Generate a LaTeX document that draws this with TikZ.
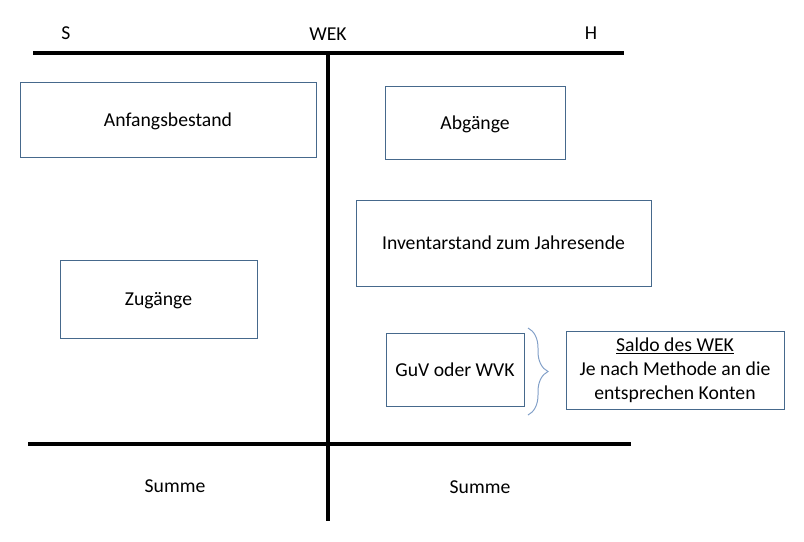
\documentclass[tikz,border=0pt]{standalone}
\usepackage{fontspec}
\setmainfont{Carlito}
\usepackage{tikz}
\usetikzlibrary{decorations.pathreplacing,positioning}
\definecolor{boxblue}{RGB}{70,105,140}
\definecolor{bracecol}{RGB}{130,160,200}

\begin{document}
\begin{tikzpicture}[
  konto/.style={line width=3.5pt},
  posten/.style={draw=boxblue, line width=0.7pt, font=\fontsize{14}{17}\selectfont, align=center, inner sep=2pt},
  lbl/.style={font=\fontsize{14}{17}\selectfont}]

\useasboundingbox (0,0) rectangle (20.1,-13.525);

% T-Konto
\coordinate (tl) at (0.825,-1.325);
\coordinate (tr) at (15.6,-1.325);
\coordinate (tm) at (8.2,-1.325);
\coordinate (bm) at (8.2,-13.025);
\coordinate (bl) at (0.7,-11.1);
\coordinate (br) at (15.775,-11.1);
\draw[konto] (tl) -- (tr);
\draw[line width=3pt] (tm) -- (bm);
\draw[konto] (bl) -- (br);

\node[lbl] (s)   at (1.65,-0.825)  {S};
\node[lbl] (wek) at (8.2,-0.85)    {WEK};
\node[lbl] (h)   at (14.775,-0.825) {H};

% Soll
\node[posten, text depth=0pt, minimum width=7.4cm, minimum height=1.875cm] (anf) at (4.2,-2.9875) {Anfangsbestand};
\node[posten, text depth=0pt, minimum width=4.925cm, minimum height=1.95cm] (zug) at (3.9625,-7.475) {Zugänge};

% Haben
\node[posten, text depth=0pt, minimum width=4.5cm, minimum height=1.825cm] (abg) at (11.875,-3.0625) {Abgänge};
\node[posten, text depth=0pt, minimum width=7.375cm, minimum height=2.15cm] (inv) at (12.5875,-6.075) {Inventarstand zum Jahresende};
\node[posten, text depth=0pt, minimum width=3.45cm, minimum height=1.825cm] (guv) at (11.375,-9.2375) {GuV oder WVK};
\node[posten, minimum width=5.45cm, minimum height=1.95cm] (saldo) at (16.875,-9.25)
  {\underline{Saldo des WEK}\\Je nach Methode an die\\entsprechen Konten};

\coordinate (bro) at (13.2,-8.2);
\coordinate (bru) at (13.2,-10.375);
\draw[bracecol, line width=0.7pt, decorate, decoration={brace, amplitude=0.5cm}] (bro) -- (bru);

\node[lbl] (sum1) at (4.375,-12.15) {Summe};
\node[lbl] (sum2) at (12,-12.175)   {Summe};

\end{tikzpicture}
\end{document}
